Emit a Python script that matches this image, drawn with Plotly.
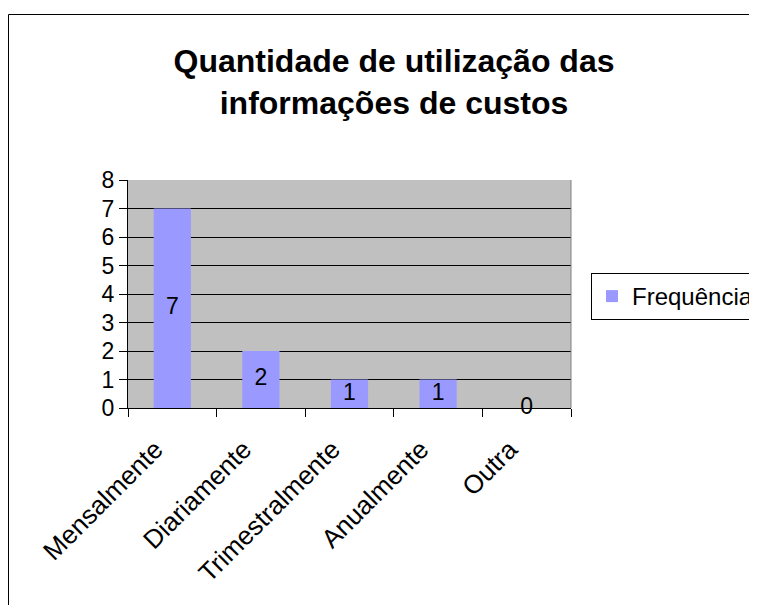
import plotly.graph_objects as go

categories = ["Mensalmente", "Diariamente", "Trimestralmente", "Anualmente", "Outra"]
values = [7, 2, 1, 1, 0]
series_name = "Frequência"
title_text = "Quantidade de utilização das<br>informações de custos"
y_ticks = [0, 1, 2, 3, 4, 5, 6, 7, 8]

FONT = "Arial, Liberation Sans, sans-serif"
OFF = 8  # page body margin
W, H = 757 - OFF, 605 - OFF
L, R, T, B = 128 - OFF, 757 - 571, 180 - OFF, 605 - 408
pw = W - L - R
ph = H - T - B

def px_to_paper_x(px):
    return (px - OFF - L) / pw

def px_to_paper_y(py):
    return (H - B - (py - OFF)) / ph

fig = go.Figure()
fig.add_trace(go.Bar(
    x=categories, y=values, name=series_name,
    marker=dict(color="#9999FF", line=dict(width=0)),
    showlegend=True,
))
fig.add_trace(go.Scatter(
    x=categories, y=[v / 2 for v in values],
    mode="text", text=[str(v) for v in values],
    textposition="middle center",
    textfont=dict(family=FONT, size=23, color="black"),
    showlegend=False, hoverinfo="skip", cliponaxis=False,
))

fig.update_layout(
    width=W, height=H,
    margin=dict(l=L, r=R, t=T, b=B, autoexpand=False),
    paper_bgcolor="white",
    plot_bgcolor="#C0C0C0",
    bargap=0.58,
    title=dict(
        text="<b>" + title_text + "</b>",
        font=dict(family=FONT, size=32, color="black"),
        x=(394 - OFF) / W, xanchor="center",
        y=1 - 64 / H, yanchor="top",
        xref="container", yref="container",
    ),
    legend=dict(
        x=px_to_paper_x(591), xanchor="left",
        y=px_to_paper_y(273), yanchor="top",
        bordercolor="black", borderwidth=1,
        bgcolor="white",
        font=dict(family=FONT, size=24, color="black"),
        itemsizing="constant",
    ),
    xaxis=dict(
        type="category",
        tickson="boundaries",
        ticks="outside", ticklen=8, tickcolor="black",
        tickangle=-45,
        ticklabelstandoff=15,
        ticklabelshift=-17,
        tickfont=dict(family=FONT, size=26, color="black"),
        showline=True, linecolor="black", linewidth=1,
        showgrid=False, zeroline=False,
        range=[-0.5, 4.5],
    ),
    yaxis=dict(
        range=[0, 8],
        tickvals=y_ticks,
        ticks="outside", ticklen=8, tickcolor="black",
        tickfont=dict(family=FONT, size=23, color="black"),
        showline=True, linecolor="black", linewidth=1,
        showgrid=True, gridcolor="black", gridwidth=1,
        zeroline=False,
    ),
    showlegend=True,
)

# right edge of plot area (grey border)
fig.add_shape(type="line", xref="paper", yref="paper",
              x0=1, x1=1, y0=0, y1=1,
              line=dict(color="#808080", width=1))
# outer chart border
fig.add_shape(type="rect", xref="paper", yref="paper",
              x0=px_to_paper_x(8.5), x1=px_to_paper_x(775),
              y0=px_to_paper_y(625), y1=px_to_paper_y(14.5),
              line=dict(color="black", width=1), fillcolor="rgba(0,0,0,0)",
              layer="above")

fig.write_html("out.html")
